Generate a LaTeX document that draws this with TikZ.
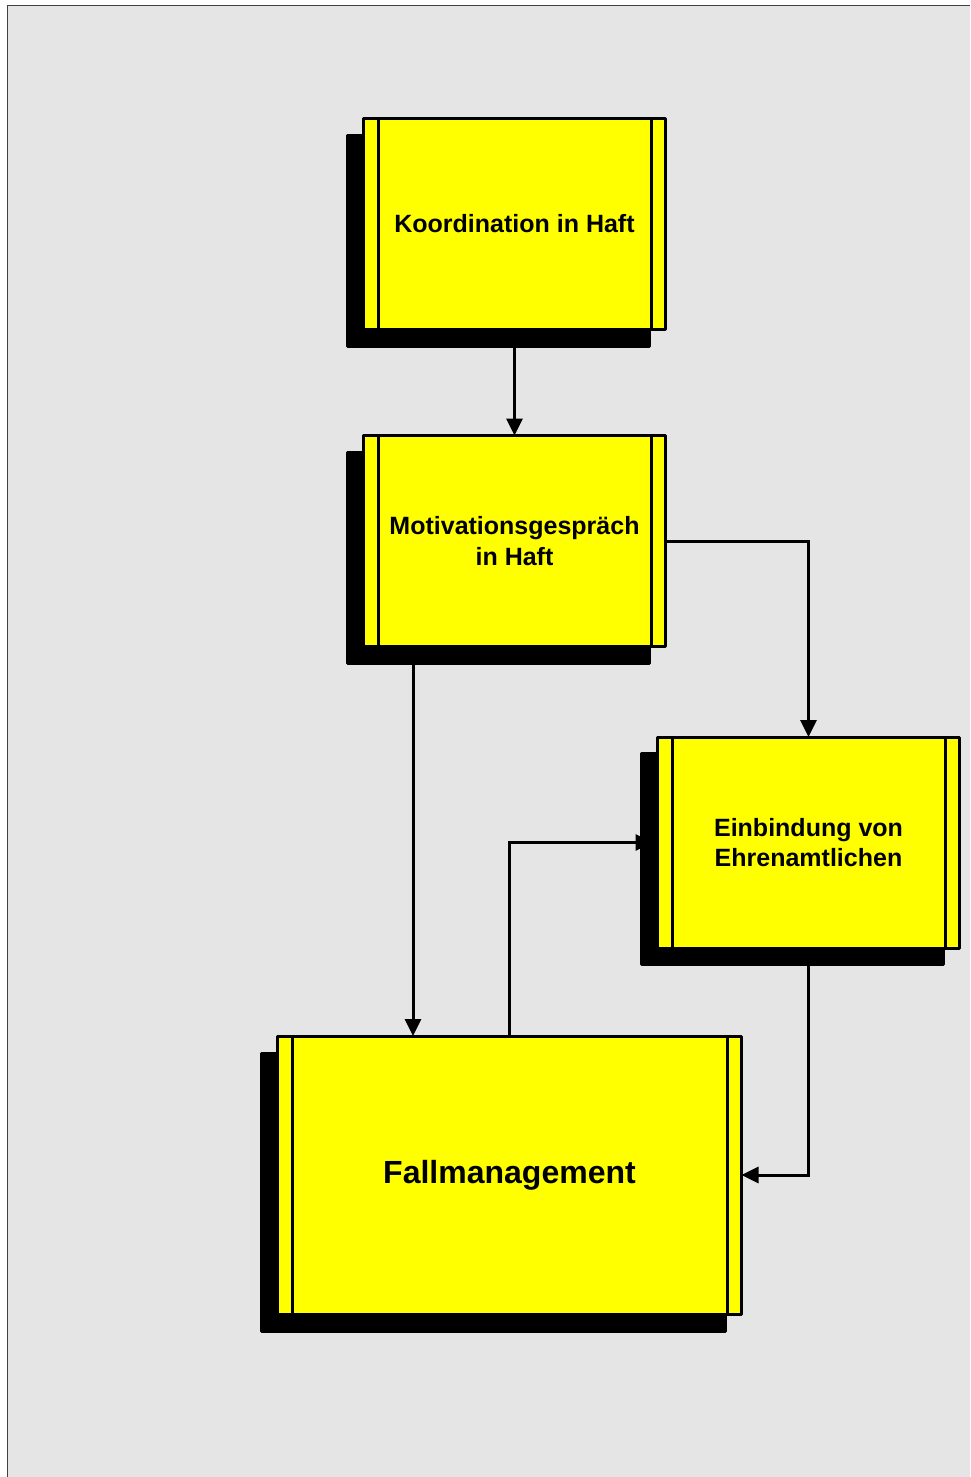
\documentclass[tikz,border=0pt]{standalone}
\usepackage{fontspec}
\setmainfont{Liberation Sans}
\usetikzlibrary{arrows.meta,calc}
\definecolor{bggray}{RGB}{229,229,229}
\definecolor{frameline}{RGB}{64,64,64}
\definecolor{boxyellow}{RGB}{255,255,0}
\tikzset{
  procbox/.style 2 args={rectangle, draw=black, fill=boxyellow, line width=3pt,
    line join=round, inner sep=0pt, outer sep=0pt,
    minimum width=#1, minimum height=#2, align=center,
    font=\bfseries\fontsize{25}{31}\selectfont},
  shadowbox/.style 2 args={rectangle, draw=black, fill=black, line width=3pt,
    line join=round, inner sep=0pt, outer sep=0pt,
    minimum width=#1, minimum height=#2},
  innerline/.style={draw=black, line width=3pt},
  arr/.style={draw=black, line width=3pt, -{Triangle[length=17pt,width=16pt]}},
}
\begin{document}
\begin{tikzpicture}[x=1pt,y=-1pt]
  \useasboundingbox (0,0) rectangle (970,1477);
  \fill[white] (0,0) rectangle (970,1477);
  \fill[bggray] (7.5,5.5) rectangle (970,1477);
  \draw[frameline, line width=1.5pt] (7.5,1477) -- (7.5,5.5) -- (970,5.5);

  % shadows
  \node[shadowbox={302pt}{211pt}] (ks) at (498.5,241) {};
  \node[shadowbox={302pt}{211pt}] (ms) at (498.5,558) {};
  \node[shadowbox={302pt}{211pt}] (es) at (792.5,859) {};
  \node[shadowbox={464pt}{278pt}] (fs) at (493.5,1192) {};

  % boxes
  \node[procbox={302pt}{211pt}] (k) at (514.5,224) {Koordination in Haft};
  \node[procbox={302pt}{211pt}] (m) at (514.5,541) {Motivationsgespräch\\in Haft};
  \node[procbox={302pt}{211pt}, font=\bfseries\fontsize{25}{30.5}\selectfont] (e) at (808.5,842.5) {Einbindung von\\Ehrenamtlichen};
  \node[procbox={464pt}{278pt}, font=\bfseries\fontsize{32}{38}\selectfont] (f) at (509.5,1175) {Fallmanagement};

  % inner vertical lines
  \foreach \b in {k,m,e,f}{
    \draw[innerline] ($(\b.north west)+(14.5,0)$) -- ($(\b.south west)+(14.5,0)$);
    \draw[innerline] ($(\b.north east)+(-14.5,0)$) -- ($(\b.south east)+(-14.5,0)$);
  }

  % connectors
  \draw[arr] (k.south |- ks.south) -- (m.north);
  \draw[arr] (m.east) -| (e.north);
  \coordinate (a3) at ($(ms.south west)+(65.5,0)$);
  \draw[arr] (a3) -- (a3 |- f.north);
  \draw[arr, shorten >=5pt] (f.north) |- (e.west);
  \draw[arr] (e.south |- es.south) |- (f.east);
\end{tikzpicture}
\end{document}
